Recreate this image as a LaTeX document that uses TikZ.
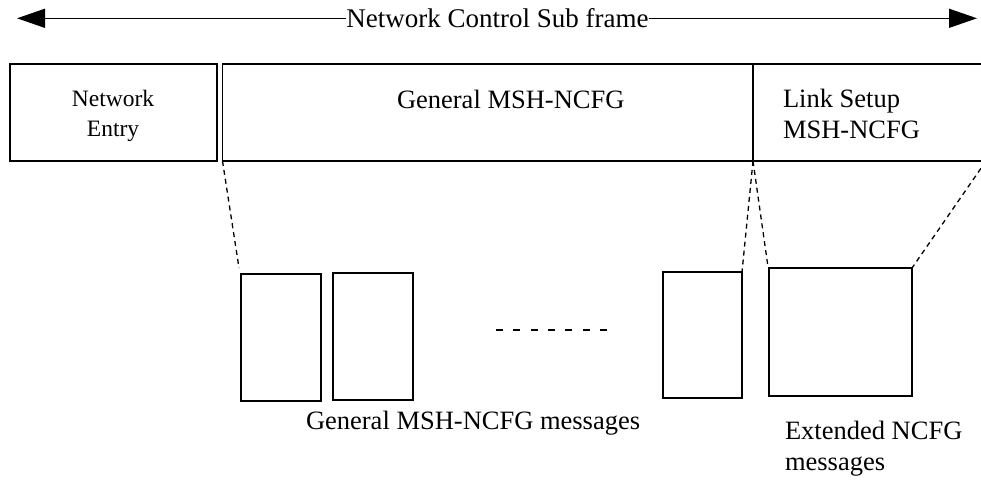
\documentclass[tikz,border=0pt]{standalone}
\usepackage{fontspec}
\setmainfont{Liberation Serif}
\usetikzlibrary{arrows.meta}
\tikzset{
  box/.style={draw, line width=1.5pt, inner sep=0pt, outer sep=0pt, anchor=north west},
  lbl/.style={inner sep=0pt, outer sep=0pt, font=\fontsize{26.5}{31}\selectfont},
  zoomline/.style={line width=1.3pt, dash pattern=on 5pt off 4pt},
  bigarrow/.style={line width=1.3pt, -{Triangle[length=28pt,width=19pt]}}
}
\begin{document}
\begin{tikzpicture}[x=1pt,y=-1pt]
\useasboundingbox (0,0) rectangle (981,479);
\clip (0,0) rectangle (981,479);
% top arrow
\node[lbl, font=\fontsize{27}{31}\selectfont, anchor=base] (title) at (497.5,27) {Network Control Sub frame};
\coordinate (ltip) at (17,18.3);
\coordinate (rtip) at (977,18.3);
\draw[bigarrow] (ltip -| title.west) -- (ltip);
\draw[bigarrow] (rtip -| title.east) -- (rtip);
% top frame boxes
\node[box, minimum width=207pt, minimum height=97pt] (ne) at (10,64) {};
\node[box, minimum width=530.5pt, minimum height=97pt] (gen) at (222.5,64) {};
\node[box, minimum width=233pt, minimum height=97pt] (link) at (753,64) {};
\node[lbl, font=\fontsize{23.5}{30}\selectfont, anchor=base] (netxt) at (113,106)
  {\begin{tabular}[t]{@{}c@{}}Network\\Entry\end{tabular}};
\node[lbl, anchor=base west] (gentxt) at (397,108) {General MSH-NCFG};
\node[lbl, anchor=base west] (linktxt) at (783,107)
  {\begin{tabular}[t]{@{}l@{}}Link Setup\\MSH-NCFG\end{tabular}};
% message boxes
\node[box, minimum width=80pt, minimum height=127pt] (b1) at (241,274) {};
\node[box, minimum width=80pt, minimum height=127pt] (b2) at (333,273) {};
\node[box, minimum width=79pt, minimum height=126pt] (b3) at (663,272) {};
\node[box, minimum width=143pt, minimum height=128pt] (b4) at (769,268) {};
\coordinate (dotsL) at (496,330);
\coordinate (dotsR) at (607,330);
\draw[line width=1.5pt, dash pattern=on 7pt off 10.33pt] (dotsL) -- (dotsR);
% zoom connectors
\draw[zoomline] (gen.south west) -- ([shift={(-2,-6)}]b1.north west);
\draw[zoomline] (gen.south east) -- (b3.north east);
\draw[zoomline] (gen.south east) -- ([shift={(-1,-1)}]b4.north west);
\draw[zoomline] (link.south east) -- (b4.north east);
% captions
\node[lbl, anchor=base west] (gcap) at (306,429) {General MSH-NCFG messages};
\node[lbl, anchor=base west] (ecap) at (785,439.5)
  {\begin{tabular}[t]{@{}l@{}}Extended NCFG\\messages\end{tabular}};
\end{tikzpicture}
\end{document}
